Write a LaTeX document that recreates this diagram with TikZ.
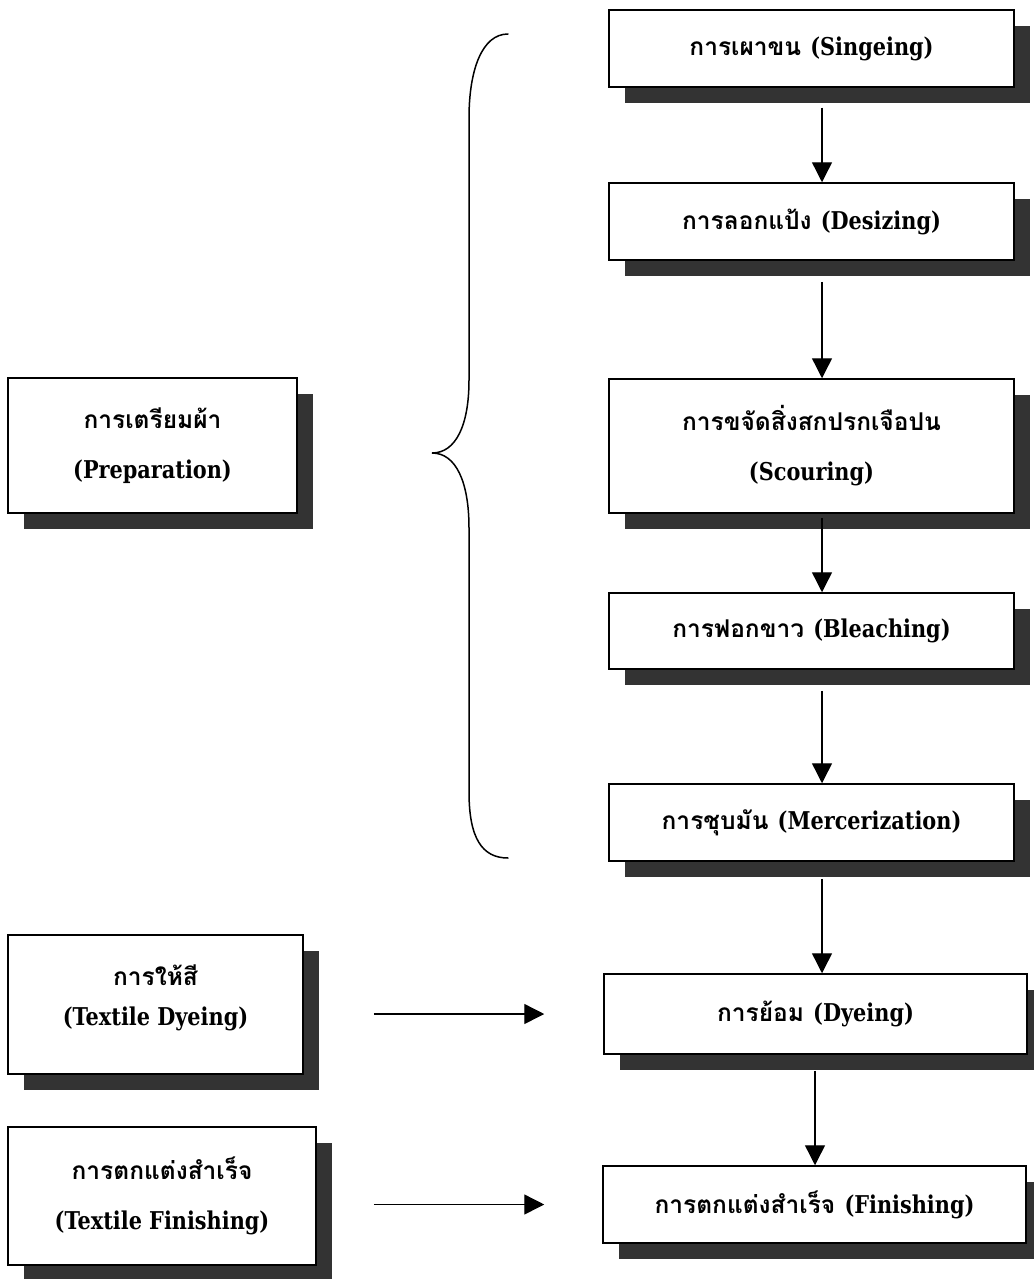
\documentclass[tikz,border=0pt]{standalone}
\usepackage{fontspec}
\newfontfamily\thai[Script=Thai]{Loma}
\newfontfamily\lat[FakeStretch=0.85]{DejaVu Serif}
\usetikzlibrary{arrows.meta,shadows}
\definecolor{shade}{HTML}{333333}
\tikzset{
  box/.style={draw=black, line width=1.5pt, fill=white, inner sep=0pt,
    align=center, font=\bfseries\fontsize{24.5}{28}\selectfont,
    drop shadow={shadow xshift=16pt, shadow yshift=-16pt, fill=shade, opacity=1}},
  arr/.style={line width=1.4pt, -{Triangle[length=20pt,width=20pt]}},
  brace/.style={line width=1.5pt, line cap=round},
}
\begin{document}
\begin{tikzpicture}[x=1pt,y=-1pt]
\useasboundingbox (0,0) rectangle (1033,1279);

% process chain on the right
\node[box, minimum width=405pt, minimum height=77pt] (sing) at (811.5,48.5)
  {{\thai การเผาขน} {\lat (Singeing)}};
\node[box, minimum width=405pt, minimum height=77pt] (desz) at (811.5,221.5)
  {{\thai การลอกแป้ง} {\lat (Desizing)}};
\node[box, minimum width=405pt, minimum height=134pt] (scour) at (811.5,446)
  {{\thai การขจัดสิ่งสกปรกเจือปน}\\[22pt]{\lat (Scouring)}};
\node[box, minimum width=405pt, minimum height=76pt] (bleach) at (811.5,631)
  {{\thai การฟอกขาว} {\lat (Bleaching)}};
\node[box, minimum width=405pt, minimum height=77pt] (merc) at (811.5,822.5)
  {{\thai การชุบมัน} {\lat (Mercerization)}};
\node[box, minimum width=423pt, minimum height=80pt] (dye) at (815.5,1014)
  {{\thai การย้อม} {\lat (Dyeing)}};
\node[box, minimum width=423pt, minimum height=77pt] (fin) at (814.5,1204.5)
  {{\thai การตกแต่งสำเร็จ} {\lat (Finishing)}};

% stages on the left
\node[box, minimum width=289pt, minimum height=135pt] (prep) at (152.5,445.5)
  {{\thai การเตรียมผ้า}\\[22pt]{\lat (Preparation)}};
\node[box, minimum width=295pt, minimum height=139pt, text depth=18pt] (tdye) at (155.5,1004.5)
  {{\thai การให้สี}\\[12pt]{\lat (Textile Dyeing)}};
\node[box, minimum width=308pt, minimum height=138pt] (tfin) at (162,1196)
  {{\thai การตกแต่งสำเร็จ}\\[22pt]{\lat (Textile Finishing)}};

% vertical flow
\draw[arr] ([xshift=10.5pt,yshift=-20pt]sing.south) -- ([xshift=10.5pt]desz.north);
\draw[arr] ([xshift=10.5pt,yshift=-21pt]desz.south) -- ([xshift=10.5pt]scour.north);
\draw[arr] ([xshift=10.5pt,yshift=-4pt]scour.south) -- ([xshift=10.5pt]bleach.north);
\draw[arr] ([xshift=10.5pt,yshift=-21pt]bleach.south) -- ([xshift=10.5pt]merc.north);
\draw[arr] ([xshift=10.5pt,yshift=-17pt]merc.south) -- ([xshift=6.5pt]dye.north);
\draw[arr] ([xshift=-0.5pt,yshift=-16pt]dye.south) -- ([xshift=0.5pt]fin.north);

% side inputs
\draw[arr] ([xshift=70pt]tdye.east |- dye.center) -- ([xshift=-59pt]dye.west);
\draw[arr] ([xshift=57pt]tfin.east |- fin.center) -- ([xshift=-58pt]fin.west);

% brace grouping the preparation steps
\coordinate (btop) at (508,34);
\coordinate (btip) at (432,453);
\coordinate (bbot) at (508,858);
\draw[brace] (btop) .. controls (482,34) and (469,70) .. (469,118)
  -- (469,380) .. controls (469,425) and (456,453) .. (btip)
  .. controls (456,453) and (469,482) .. (469,528)
  -- (469,792) .. controls (469,838) and (482,858) .. (bbot);
\end{tikzpicture}
\end{document}
